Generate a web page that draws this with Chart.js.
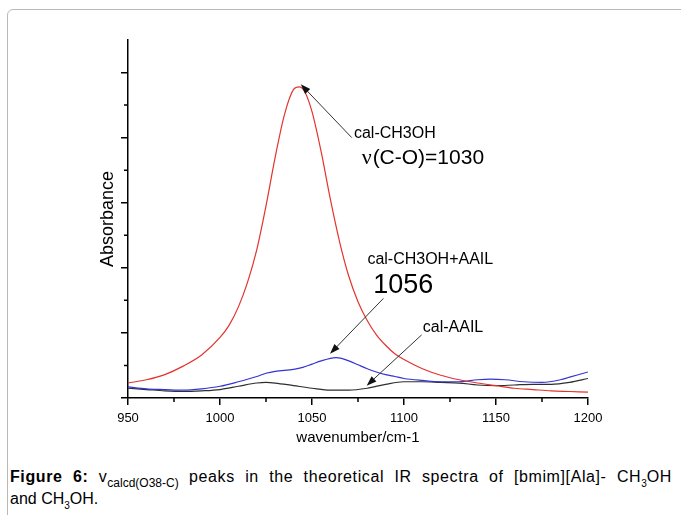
<!DOCTYPE html>
<html>
<head>
<meta charset="utf-8">
<title>Figure 6</title>
<script src="https://cdn.jsdelivr.net/npm/chart.js@4.4.0/dist/chart.umd.min.js"></script>
<style>
    html, body { margin: 0; padding: 0; background: #fff; }
    body {
        position: relative;
        width: 681px;
        height: 515px;
        overflow: hidden;
        font-family: "Liberation Sans", Arial, sans-serif;
    }
    .frame {
        position: absolute;
        left: 7px;
        top: 9px;
        width: 720px;
        height: 600px;
        border: 1px solid #b9b9b9;
        border-radius: 6px;
    }
    #chart { position: absolute; left: 0; top: 0; }
    .caption {
        position: absolute;
        left: 10px;
        width: 662px;
        font-size: 16px;
        line-height: 22px;
        color: #000;
        white-space: nowrap;
    }
    .caption.l1 {
        top: 466px;
        letter-spacing: 0.6px;
        text-align: justify;
        text-align-last: justify;
        white-space: normal;
    }
    .caption.l2 { top: 488px; }
    .caption sub { font-size: 10px; vertical-align: -5px; line-height: 0; letter-spacing: 0; }
    .caption sub.big { font-size: 12px; vertical-align: -5px; }
</style>
</head>
<body>
<div class="frame"></div>
<canvas id="chart" width="681" height="460"></canvas>
<div class="caption l1"><b>Figure 6:</b> v<sub class="big">calcd(O38-C)</sub> peaks in the theoretical IR spectra of [bmim][Ala]- CH<sub>3</sub>OH</div>
<div class="caption l2">and CH<sub>3</sub>OH.</div>

<script>
(function() {
    'use strict';

    // x axis tick labels
    var xTickLabels = ['950', '1000', '1050', '1100', '1150', '1200'];

    // cal-CH3OH (red)
    var methanolWn = [950, 960, 970, 980, 990, 1000, 1005, 1010, 1015, 1020, 1025, 1030, 1035, 1040, 1043,
        1046, 1050, 1055, 1060, 1065, 1070, 1075, 1080, 1085, 1090, 1095, 1100, 1110, 1120, 1130,
        1140, 1150, 1160, 1170, 1180, 1190, 1200];
    var methanolAbs = [0.23, 0.28, 0.36, 0.49, 0.66, 0.93, 1.12, 1.40, 1.78, 2.28, 2.95, 3.70, 4.35, 4.74, 4.78,
        4.71, 4.40, 3.78, 3.05, 2.40, 1.87, 1.48, 1.19, 0.97, 0.81, 0.68, 0.59, 0.45, 0.35, 0.28,
        0.23, 0.19, 0.15, 0.13, 0.11, 0.10, 0.09];

    // cal-CH3OH+AAIL (blue)
    var mixWn = [950, 960, 970, 980, 990, 1000, 1010, 1020, 1025, 1030, 1040, 1045, 1050, 1055, 1060,
        1063, 1066, 1070, 1075, 1080, 1085, 1090, 1095, 1100, 1110, 1120, 1130, 1140, 1147, 1155,
        1165, 1175, 1185, 1190, 1200];
    var mixAbs = [0.17, 0.14, 0.13, 0.12, 0.14, 0.18, 0.25, 0.33, 0.38, 0.41, 0.44, 0.47, 0.52, 0.57, 0.61,
        0.62, 0.61, 0.57, 0.51, 0.45, 0.40, 0.36, 0.33, 0.30, 0.27, 0.25, 0.25, 0.28, 0.29, 0.28,
        0.25, 0.24, 0.28, 0.32, 0.40];

    // cal-AAIL (black)
    var aailWn = [950, 960, 970, 980, 990, 1000, 1010, 1020, 1025, 1030, 1040, 1050, 1060, 1070, 1080,
        1090, 1100, 1110, 1120, 1130, 1140, 1150, 1160, 1170, 1180, 1190, 1200];
    var aailAbs = [0.15, 0.13, 0.11, 0.10, 0.11, 0.13, 0.18, 0.23, 0.24, 0.23, 0.19, 0.15, 0.12, 0.12, 0.15,
        0.21, 0.25, 0.25, 0.24, 0.23, 0.20, 0.19, 0.20, 0.21, 0.21, 0.24, 0.30];

    var FONT = '"Liberation Sans", Arial, sans-serif';
    var SERIF = '"Liberation Serif", "Times New Roman", serif';

    /**
     * Pair x and y arrays into points
     */
    function toPoints(xs, ys) {
        return xs.map(function(x, i) {
            return { x: x, y: ys[i] };
        });
    }

    /**
     * Labels and arrows, placed in data units
     */
    var notes = [
        { text: 'cal-CH3OH', x: 1072.8, y: 3.99, size: 16 },
        { lead: '\u03bd', text: '(C-O)=1030', x: 1077.0, y: 3.60, size: 21 },
        { text: 'cal-CH3OH+AAIL', x: 1080.1, y: 2.06, size: 16 },
        { text: '1056', x: 1083.3, y: 1.61, size: 27 },
        { text: 'cal-AAIL', x: 1110.2, y: 1.02, size: 16 }
    ];
    var arrows = [
        { from: [1071.6, 4.00], to: [1043.9, 4.82] },
        { from: [1088.8, 1.53], to: [1059.8, 0.68] },
        { from: [1109.6, 0.97], to: [1079.7, 0.19] }
    ];

    var annotationPlugin = {
        id: 'notes',
        afterDatasetsDraw: function(chart) {
            var ctx = chart.ctx;
            var xs = chart.scales.x;
            var ys = chart.scales.y;

            ctx.save();
            // arrows
            arrows.forEach(function(a) {
                var x1 = xs.getPixelForValue(a.from[0]), y1 = ys.getPixelForValue(a.from[1]);
                var x2 = xs.getPixelForValue(a.to[0]), y2 = ys.getPixelForValue(a.to[1]);
                var ang = Math.atan2(y2 - y1, x2 - x1);
                var c = Math.cos(ang), s = Math.sin(ang);
                ctx.strokeStyle = '#333';
                ctx.fillStyle = '#111';
                ctx.lineWidth = 1;
                ctx.beginPath();
                ctx.moveTo(x1, y1);
                ctx.lineTo(x2 - 8 * c, y2 - 8 * s);
                ctx.stroke();
                ctx.beginPath();
                ctx.moveTo(x2, y2);
                ctx.lineTo(x2 - 10 * c + 3.5 * s, y2 - 10 * s - 3.5 * c);
                ctx.lineTo(x2 - 10 * c - 3.5 * s, y2 - 10 * s + 3.5 * c);
                ctx.closePath();
                ctx.fill();
            });

            // labels
            ctx.fillStyle = '#000';
            ctx.textAlign = 'left';
            ctx.textBaseline = 'alphabetic';
            notes.forEach(function(n) {
                var px = xs.getPixelForValue(n.x);
                var py = ys.getPixelForValue(n.y);
                if (n.lead) {
                    ctx.font = (n.size + 1) + 'px ' + SERIF;
                    ctx.fillText(n.lead, px, py);
                    px += ctx.measureText(n.lead).width + 1;
                }
                ctx.font = n.size + 'px ' + FONT;
                ctx.fillText(n.text, px, py);
            });
            ctx.restore();
        }
    };

    // short minor ticks between the major ones
    var minorTickPlugin = {
        id: 'minorTicks',
        afterDraw: function(chart) {
            var ctx = chart.ctx;
            var xs = chart.scales.x;
            var ys = chart.scales.y;
            var i, p;

            ctx.save();
            ctx.strokeStyle = '#000';
            ctx.lineWidth = 1.5;
            ctx.beginPath();
            for (i = 975; i < 1200; i += 50) {
                p = xs.getPixelForValue(i);
                ctx.moveTo(p, xs.top);
                ctx.lineTo(p, xs.top + 4);
            }
            for (i = 0.5; i < 5.5; i += 1) {
                p = ys.getPixelForValue(i);
                ctx.moveTo(ys.right, p);
                ctx.lineTo(ys.right - 4, p);
            }
            ctx.stroke();
            ctx.restore();
        }
    };

    var ctx = document.getElementById('chart').getContext('2d');
    new Chart(ctx, {
        type: 'line',
        data: {
            datasets: [{
                label: 'cal-CH3OH',
                data: toPoints(methanolWn, methanolAbs),
                borderColor: '#e3332d'
            }, {
                label: 'cal-CH3OH+AAIL',
                data: toPoints(mixWn, mixAbs),
                borderColor: '#3434d2'
            }, {
                label: 'cal-AAIL',
                data: toPoints(aailWn, aailAbs),
                borderColor: '#2e2e2e'
            }]
        },
        options: {
            responsive: false,
            animation: false,
            layout: {
                padding: { left: 0, right: 93, top: 40, bottom: 0 }
            },
            elements: {
                point: { radius: 0 },
                line: { borderWidth: 1.2, fill: false, cubicInterpolationMode: 'monotone' }
            },
            plugins: {
                legend: { display: false },
                tooltip: { enabled: false }
            },
            scales: {
                x: {
                    type: 'linear',
                    min: 950,
                    max: 1200,
                    border: { color: '#000', width: 1.5 },
                    grid: { drawOnChartArea: false, drawTicks: true, tickLength: 7, color: '#000', lineWidth: 1.5 },
                    ticks: {
                        stepSize: 50,
                        padding: 6,
                        color: '#000',
                        font: { family: FONT, size: 13 },
                        maxRotation: 0,
                        callback: function(value) {
                            return xTickLabels[(value - 950) / 50];
                        }
                    },
                    title: {
                        display: true,
                        text: 'wavenumber/cm-1',
                        color: '#000',
                        font: { family: FONT, size: 15 },
                        padding: { top: 0, bottom: 13 }
                    },
                    afterFit: function(scale) {
                        scale.height = 62;
                    }
                },
                y: {
                    type: 'linear',
                    min: 0,
                    max: 5.5,
                    border: { color: '#000', width: 1.5 },
                    grid: { drawOnChartArea: false, drawTicks: true, tickLength: 7, color: '#000', lineWidth: 1.5 },
                    ticks: { stepSize: 1, includeBounds: false, display: false },
                    title: {
                        display: true,
                        text: 'Absorbance',
                        color: '#000',
                        font: { family: FONT, size: 18 },
                        padding: { top: 97, bottom: 0 }
                    },
                    afterFit: function(scale) {
                        scale.width = 128;
                    }
                }
            }
        },
        plugins: [annotationPlugin, minorTickPlugin]
    });
})();
</script>
</body>
</html>
